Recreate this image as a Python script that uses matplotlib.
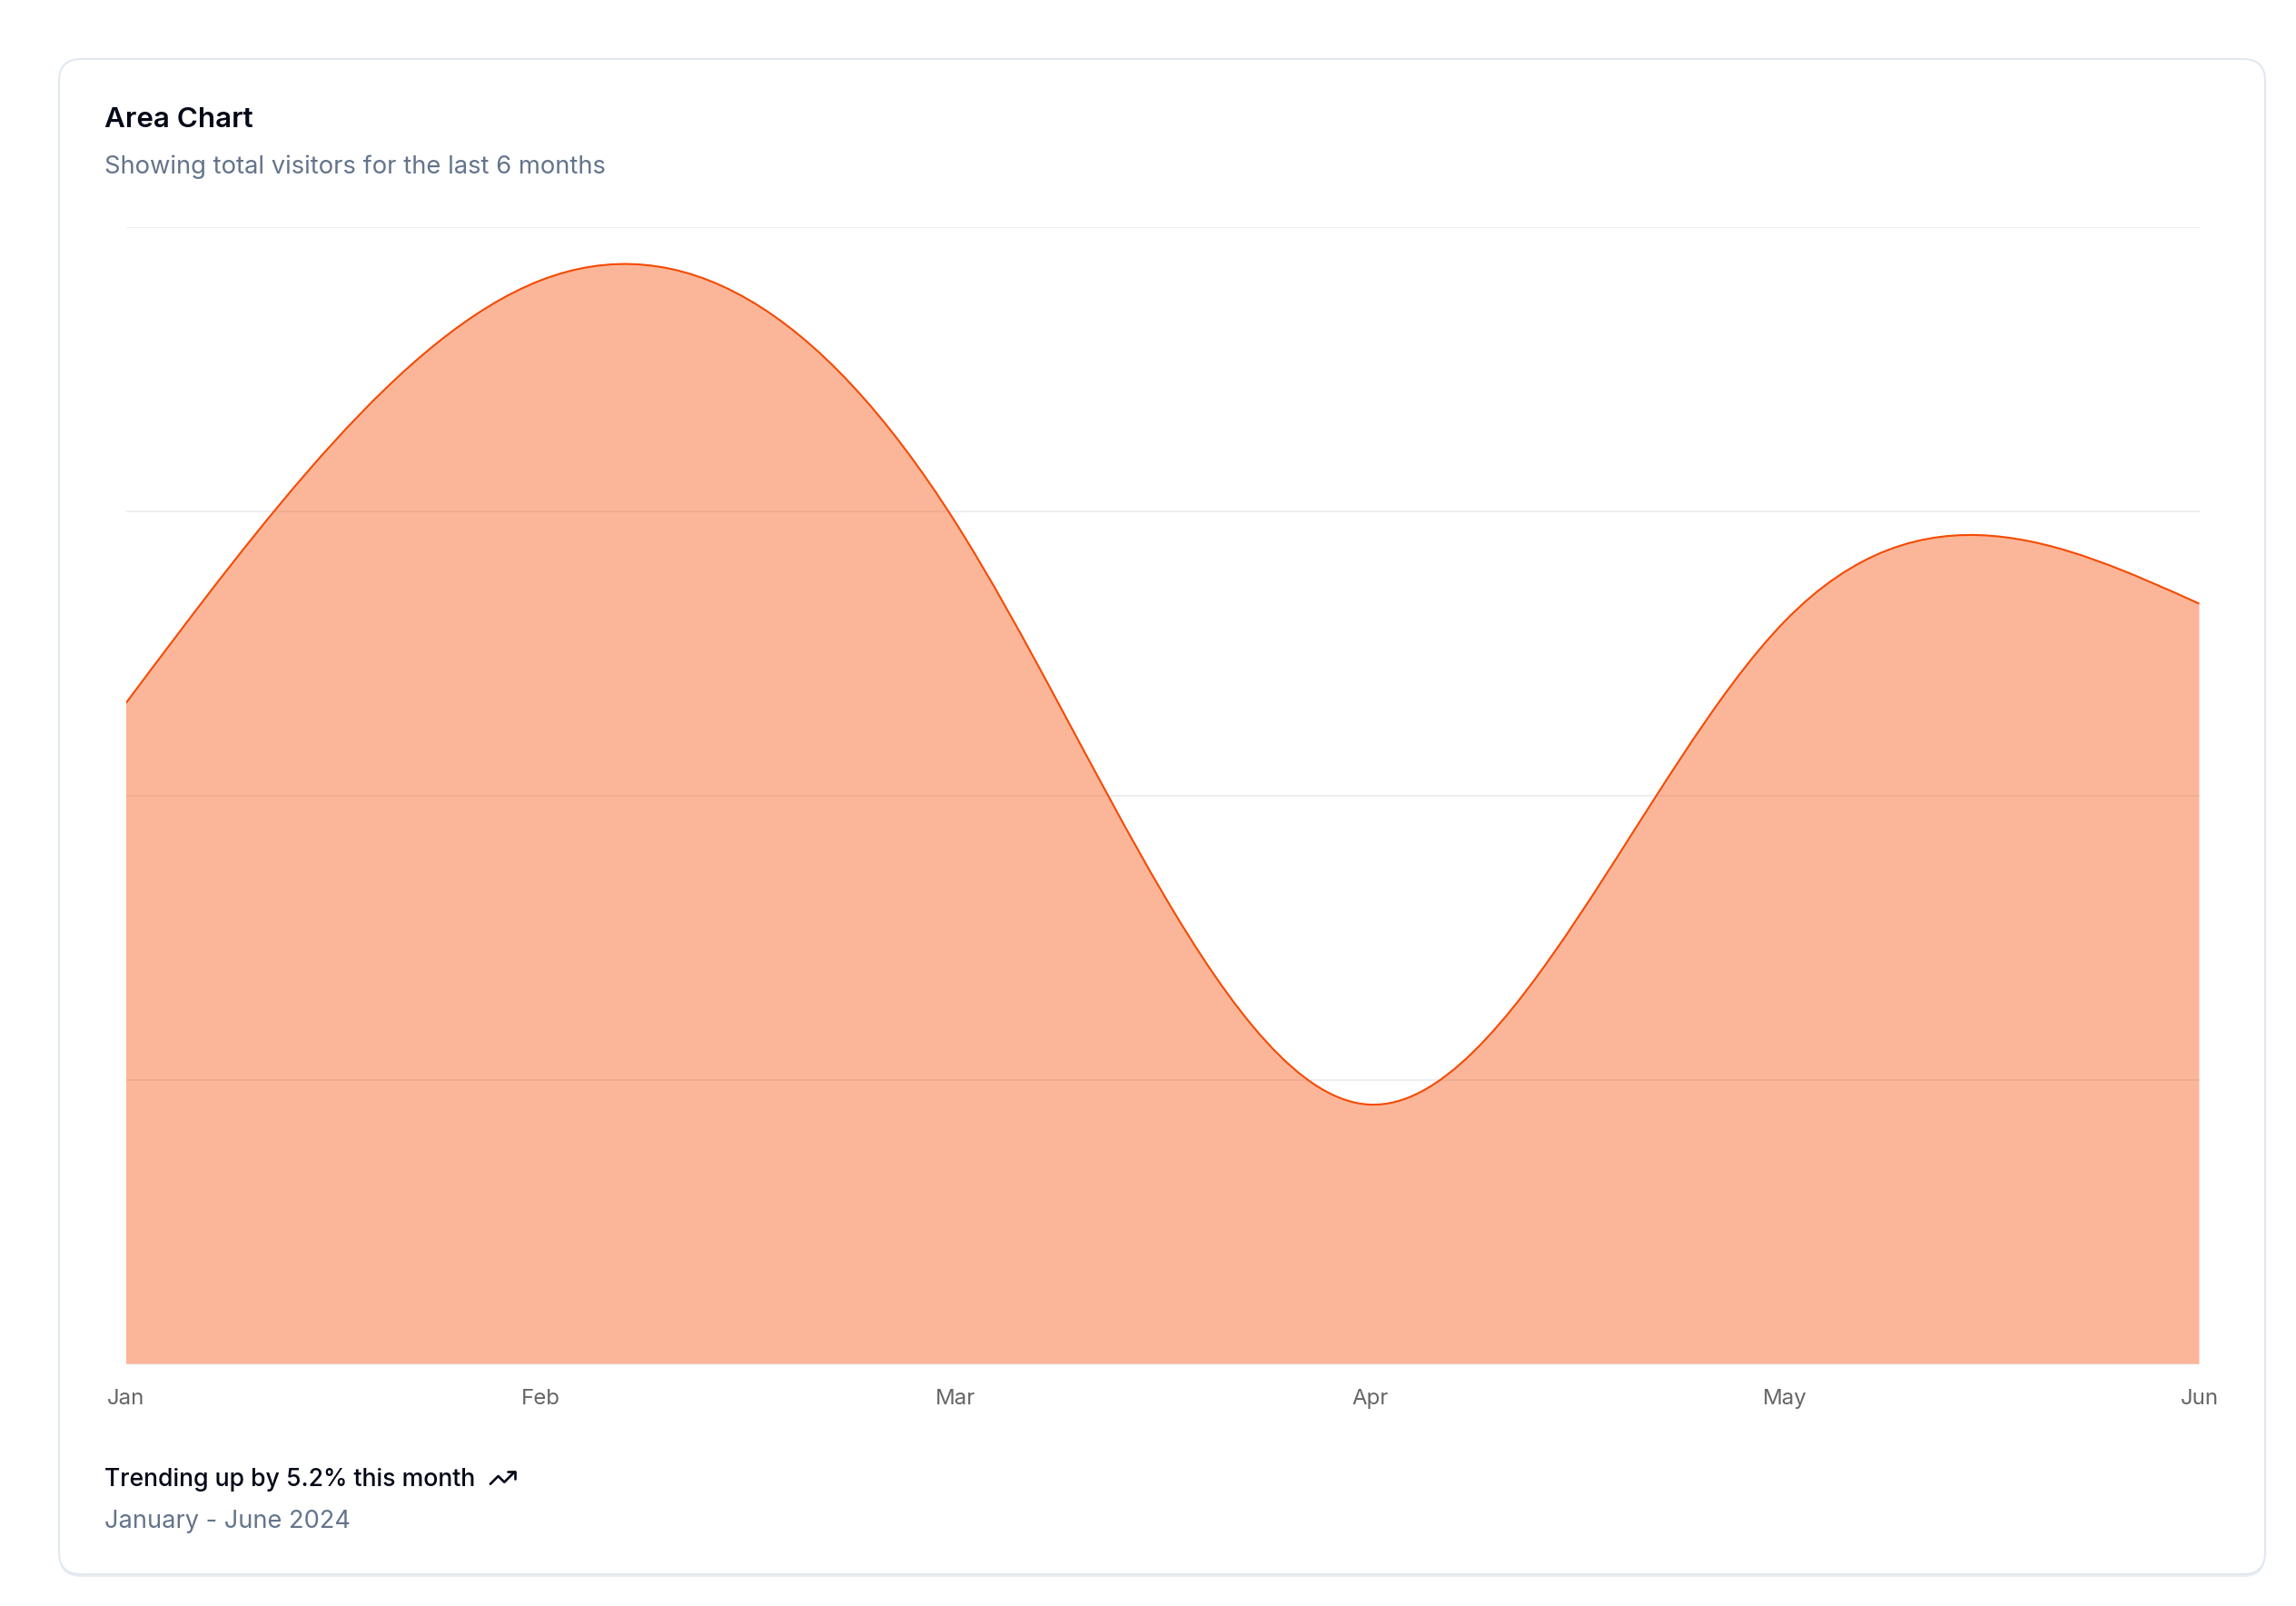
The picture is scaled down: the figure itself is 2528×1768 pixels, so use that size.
import matplotlib
matplotlib.use("Agg")
import matplotlib.pyplot as plt
import numpy as np
from matplotlib.path import Path
from matplotlib.patches import PathPatch, FancyBboxPatch
from matplotlib.lines import Line2D
from matplotlib.transforms import IdentityTransform

plt.rcParams['font.family'] = ['Inter', 'DejaVu Sans']

# data
months = ["Jan", "Feb", "Mar", "Apr", "May", "Jun"]
desktop = [186, 305, 237, 73, 209, 214]
y_ticks = [0, 80, 160, 240, 320]

W, H = 2528, 1768
color = "#f54a00"


def natural_controls(v):
    # same control points as d3.curveNatural
    v = np.asarray(v, float)
    n = len(v) - 1
    a = np.zeros(n); b = np.zeros(n); r = np.zeros(n)
    a[0], b[0], r[0] = 0, 2, v[0] + 2 * v[1]
    for i in range(1, n - 1):
        a[i], b[i], r[i] = 1, 4, 4 * v[i] + 2 * v[i + 1]
    a[n - 1], b[n - 1], r[n - 1] = 2, 7, 8 * v[n - 1] + v[n]
    for i in range(1, n):
        m = a[i] / b[i - 1]
        b[i] -= m
        r[i] -= m * r[i - 1]
    a[n - 1] = r[n - 1] / b[n - 1]
    for i in range(n - 2, -1, -1):
        a[i] = (r[i] - a[i + 1]) / b[i]
    b[n - 1] = (v[n] + a[n - 1]) / 2
    for i in range(n - 1):
        b[i] = 2 * v[i + 1] - a[i + 1]
    return a, b


def fx(px):
    return px / W


def fy(py):
    return 1 - py / H


fig = plt.figure(figsize=(W / 100, H / 100), dpi=100)
fig.patch.set_facecolor("white")

# card
shadow = FancyBboxPatch((65, H - 1736), 2429, 1668, boxstyle="round,pad=0,rounding_size=24",
                        transform=IdentityTransform(), facecolor="#e9edf2", edgecolor="none", zorder=0)
fig.add_artist(shadow)
card = FancyBboxPatch((65, H - 1733), 2429, 1668, boxstyle="round,pad=0,rounding_size=24",
                      transform=IdentityTransform(), facecolor="white", edgecolor="#e2e8f0",
                      linewidth=1.5, zorder=0.5)
fig.add_artist(card)

ax = fig.add_axes([fx(138.6), fy(1501.5), fx(2421.5) - fx(138.6), fy(250) - fy(1501.5)])
ax.set_facecolor("none")
ax.set_zorder(2)

x = np.arange(len(months))
c1, c2 = natural_controls(x)
d1, d2 = natural_controls(desktop)

verts = [(x[0], desktop[0])]
codes = [Path.MOVETO]
for i in range(len(months) - 1):
    verts += [(c1[i], d1[i]), (c2[i], d2[i]), (x[i + 1], desktop[i + 1])]
    codes += [Path.CURVE4] * 3

line_path = Path(verts, codes)
area_path = Path(verts + [(x[-1], 0), (x[0], 0), (x[0], desktop[0])],
                 codes + [Path.LINETO, Path.LINETO, Path.CLOSEPOLY])

ax.add_patch(PathPatch(area_path, facecolor=color, alpha=0.4, edgecolor="none", zorder=2))
ax.add_patch(PathPatch(line_path, facecolor="none", edgecolor=color, linewidth=1.5, zorder=3))

ax.set_xlim(0, len(months) - 1)
ax.set_ylim(y_ticks[0], y_ticks[-1])
ax.set_yticks(y_ticks)
ax.set_xticks(x)
ax.set_xticklabels(months)
ax.tick_params(axis="x", length=0, pad=20, labelsize=17.3, labelcolor="#666666")
ax.tick_params(axis="y", length=0, labelleft=False)
ax.grid(axis="y", color="#eceef2", linewidth=1.4, zorder=1)
ax.set_axisbelow(True)
for s in ax.spines.values():
    s.set_visible(False)

# header text
fig.text(fx(115), fy(140), "Area Chart", fontsize=22.6, fontweight="semibold",
         color="#020817", va="baseline", ha="left")
fig.text(fx(115), fy(191), "Showing total visitors for the last 6 months", fontsize=19.7,
         color="#64748b", va="baseline", ha="left")

# footer text
t = fig.text(fx(115), fy(1636), "Trending up by 5.2% this month", fontsize=19.2,
             fontweight="medium", color="#020817", va="baseline", ha="left")
fig.text(fx(115), fy(1682), "January - June 2024", fontsize=19.6,
         color="#64748b", va="baseline", ha="left")

# trending-up icon (24x24 viewbox)
fig.canvas.draw()
bb = t.get_window_extent()
s = 32 / 24
x0 = bb.x1 + 14
y0 = H - 1627 + 16
for pts in ([(22, 7), (13.5, 15.5), (8.5, 10.5), (2, 17)], [(16, 7), (22, 7), (22, 13)]):
    xs = [x0 + p[0] * s for p in pts]
    ys = [y0 - p[1] * s for p in pts]
    fig.add_artist(Line2D(xs, ys, transform=IdentityTransform(), color="#020817",
                          linewidth=1.9, solid_capstyle="round", solid_joinstyle="round"))

fig.savefig("out.png", dpi=100)
